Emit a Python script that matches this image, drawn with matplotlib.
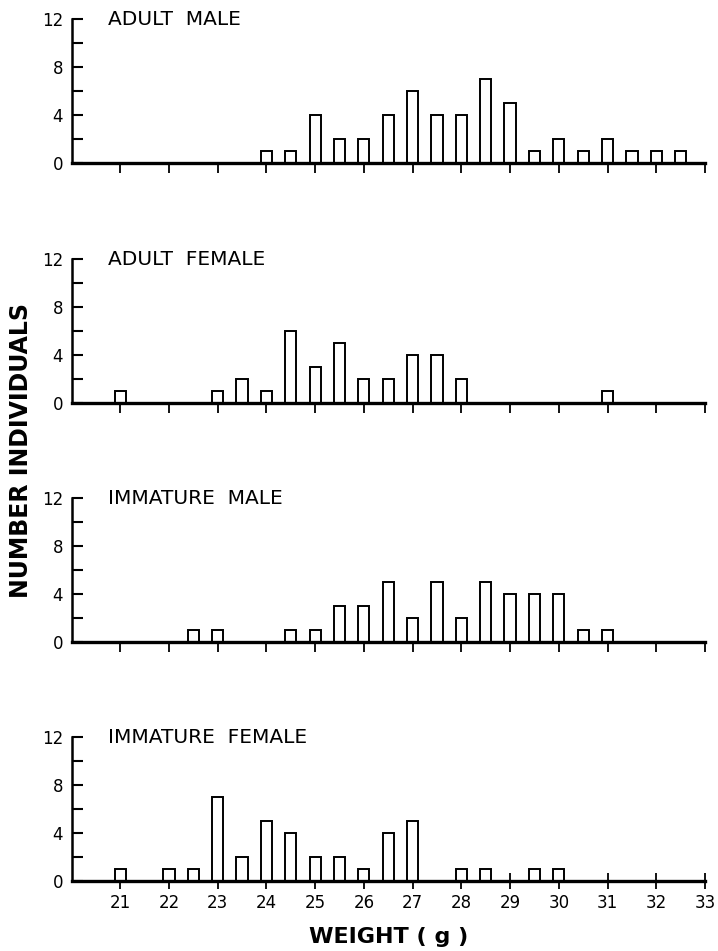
import matplotlib
matplotlib.use("Agg")
import matplotlib.pyplot as plt
from matplotlib.ticker import FixedLocator

# ---- data ----
panel_titles = ["ADULT  MALE", "ADULT  FEMALE", "IMMATURE  MALE", "IMMATURE  FEMALE"]

adult_male_w = [24, 24.5, 25, 25.5, 26, 26.5, 27, 27.5, 28, 28.5, 29, 29.5, 30, 30.5, 31, 31.5, 32, 32.5]
adult_male_n = [1, 1, 4, 2, 2, 4, 6, 4, 4, 7, 5, 1, 2, 1, 2, 1, 1, 1]

adult_female_w = [21, 23, 23.5, 24, 24.5, 25, 25.5, 26, 26.5, 27, 27.5, 28, 31]
adult_female_n = [1, 1, 2, 1, 6, 3, 5, 2, 2, 4, 4, 2, 1]

imm_male_w = [22.5, 23, 24.5, 25, 25.5, 26, 26.5, 27, 27.5, 28, 28.5, 29, 29.5, 30, 30.5, 31]
imm_male_n = [1, 1, 1, 1, 3, 3, 5, 2, 5, 2, 5, 4, 4, 4, 1, 1]

imm_female_w = [21, 22, 22.5, 23, 23.5, 24, 24.5, 25, 25.5, 26, 26.5, 27, 28, 28.5, 29.5, 30]
imm_female_n = [1, 1, 1, 7, 2, 5, 4, 2, 2, 1, 4, 5, 1, 1, 1, 1]

x_ticks = list(range(21, 34))
y_major = [0, 4, 8, 12]
y_minor = [2, 6, 10]

series = [(adult_male_w, adult_male_n), (adult_female_w, adult_female_n),
          (imm_male_w, imm_male_n), (imm_female_w, imm_female_n)]

fig = plt.figure(figsize=(7.18, 9.51), dpi=100)

left = 71.5 / 718
width = (705 - 71.5) / 718
bottoms_px = [163, 403, 642, 881]
h = 0.151

for i, ((w, n), title) in enumerate(zip(series, panel_titles)):
    b = 1 - bottoms_px[i] / 951
    ax = fig.add_axes([left, b, width, h])
    ax.bar(w, n, width=0.23, facecolor="white", edgecolor="black", linewidth=1.4, zorder=2)
    ax.set_xlim(20, 33)
    ax.set_ylim(0, 12)
    for s in ["top", "right"]:
        ax.spines[s].set_visible(False)
    ax.spines["bottom"].set_linewidth(2.4)
    ax.spines["left"].set_linewidth(1.8)
    ax.spines["bottom"].set_zorder(3)
    ax.set_yticks(y_major)
    ax.set_yticklabels([str(v) for v in y_major])
    ax.yaxis.set_minor_locator(FixedLocator(y_minor))
    ax.tick_params(axis="y", which="both", direction="in", length=8, width=1.5,
                   labelsize=12, pad=6)
    ax.set_xticks(x_ticks)
    last = (i == 3)
    ax.tick_params(axis="x", which="major", direction="inout" if last else "out",
                   length=12 if last else 7, width=1.3, labelsize=12, pad=3)
    if not last:
        ax.xaxis.set_minor_locator(FixedLocator([33]))
        ax.tick_params(axis="x", which="minor", direction="in", length=6, width=1.3)
        ax.set_xticklabels([])
    ax.text(20.74, 12, title, fontsize=14.5, va="center", ha="left")
    ax.set_facecolor("none")
    if last:
        ax.set_xlabel("WEIGHT ( g )", fontsize=16, fontweight="bold", labelpad=11)

fig.text(0.029, 1 - 451 / 951, "NUMBER INDIVIDUALS", rotation=90, fontsize=17,
         fontweight="bold", va="center", ha="center")

fig.savefig("out.png", dpi=100)
